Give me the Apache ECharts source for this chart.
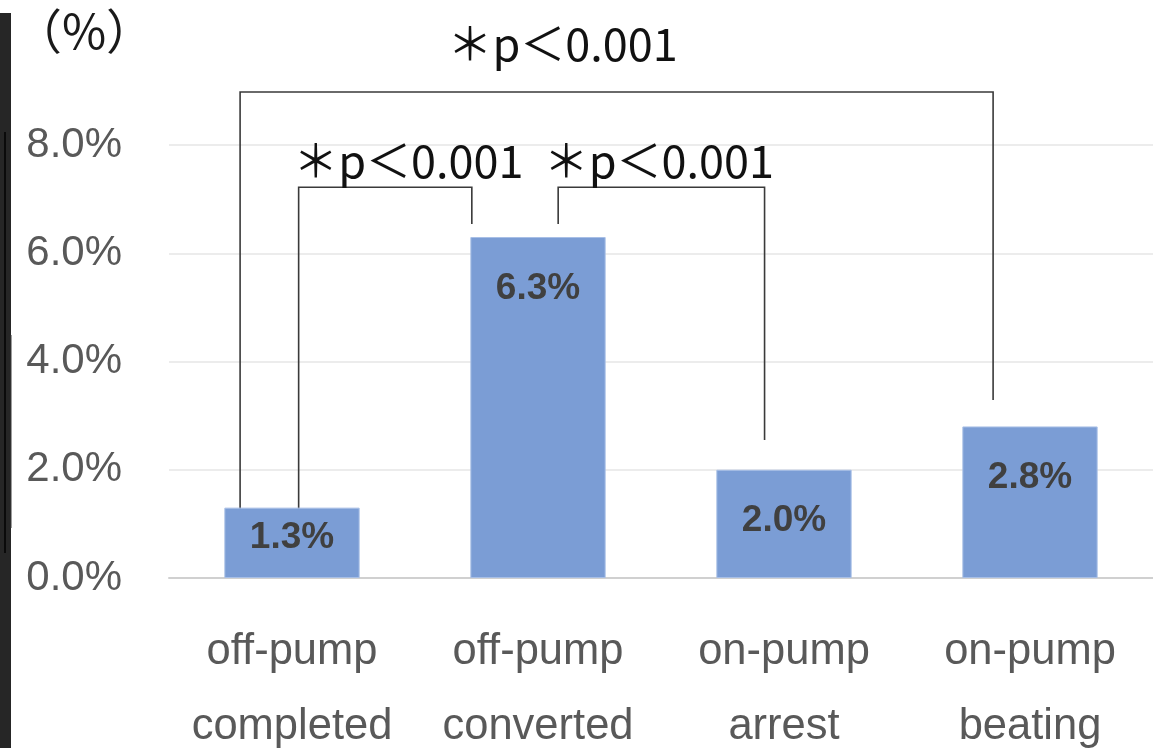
<!DOCTYPE html>
<html>
<head>
<meta charset="utf-8">
<script src="https://cdn.jsdelivr.net/npm/echarts@6/dist/echarts.min.js"></script>
<style>
html,body{margin:0;padding:0;background:#fff;overflow:hidden;}
#chart{width:1153px;height:748px;}
</style>
</head>
<body>
<div id="chart"></div>
<script>
// ---- data ----
const categories = ['off-pump\ncompleted', 'off-pump\nconverted', 'on-pump\narrest', 'on-pump\nbeating'];
const rates = [1.3, 6.3, 2.0, 2.8];          // %
const yTickValues = [0, 2, 4, 6, 8];          // %
const unitLabel = '（%）';
const pText = '＊p＜0.001';
// significance brackets (category index + fraction of band, values in %)
const bracketFromCat   = [0, 1, 0];
const bracketFromShift = [0.027, 0.082, -0.211];
const bracketFromEnd   = [1.2, 6.54, 1.2];
const bracketToCat     = [1, 2, 3];
const bracketToShift   = [-0.269, -0.079, -0.150];
const bracketToEnd     = [6.54, 2.55, 3.29];
const bracketTop       = [7.22, 7.22, 8.98];
const bracketLabelCat  = [0.473, 1.491, 1.10];
const bracketLabelY    = [7.70, 7.70, 9.875];

const chart = echarts.init(document.getElementById('chart'), null, {renderer: 'canvas'});

const barData = rates.map(v => v < 1.5
  ? {value: v, label: {position: 'inside', offset: [0, -5]}}
  : v);

chart.setOption({
  animation: false,
  backgroundColor: '#ffffff',
  grid: {left: 169, right: 0, top: 145, height: 433, containLabel: false, outerBoundsMode: 'none'},
  xAxis: {
    type: 'category',
    data: categories,
    axisTick: {show: false},
    axisLine: {show: true, lineStyle: {color: '#d0d0d0', width: 2}},
    axisLabel: {
      color: '#595959', fontSize: 43.5, lineHeight: 75, margin: 36,
      fontFamily: 'Liberation Sans, Arial, sans-serif', interval: 0
    }
  },
  yAxis: {
    type: 'value',
    min: yTickValues[0],
    max: yTickValues[yTickValues.length - 1],
    interval: yTickValues[1] - yTickValues[0],
    axisLine: {show: false},
    axisTick: {show: false},
    splitLine: {lineStyle: {color: '#ececec', width: 2}},
    axisLabel: {
      color: '#595959', fontSize: 42, margin: 47,
      fontFamily: 'Liberation Sans, Arial, sans-serif',
      formatter: v => v.toFixed(1) + '%'
    }
  },
  series: [{
    type: 'bar',
    data: barData,
    barWidth: '55%',
    itemStyle: {color: '#7b9dd5', borderColor: '#a8bfe6', borderWidth: 1},
    label: {
      show: true,
      position: 'insideTop',
      distance: 33,
      color: '#404040',
      fontSize: 37,
      fontWeight: 'bold',
      fontFamily: 'Liberation Sans, Arial, sans-serif',
      formatter: p => p.value.toFixed(1) + '%'
    }
  }]
});

function drawAnnotations() {
  const toPx = (cat, val) => chart.convertToPixel({xAxisIndex: 0, yAxisIndex: 0}, [cat, val]);
  const c0 = toPx(0, 0), c1 = toPx(1, 0);
  const band = c1[0] - c0[0];
  const xAt = c => {
    const base = Math.floor(c);
    return toPx(base, 0)[0] + (c - base) * band;
  };
  const yAt = v => toPx(0, v)[1];
  const els = [];
  // left dark strip (window edge)
  els.push({type: 'rect', shape: {x: 0, y: 13, width: 11, height: 735}, style: {fill: '#262626'}, silent: true});
  els.push({type: 'line', shape: {x1: 5, y1: 132, x2: 5, y2: 553}, style: {stroke: '#0a0a0a', lineWidth: 2}, silent: true});
  els.push({type: 'line', shape: {x1: 11, y1: 335, x2: 11, y2: 528}, style: {stroke: '#3a3a3a', lineWidth: 1}, silent: true});
  // unit label
  els.push({type: 'text', style: {text: unitLabel, x: 84, y: 31, align: 'center', verticalAlign: 'middle',
    fill: '#1a1a1a', fontSize: 48, fontFamily: 'Noto Sans CJK JP, sans-serif'}, silent: true});
  for (let i = 0; i < bracketFromCat.length; i++) {
    const x1 = xAt(bracketFromCat[i] + bracketFromShift[i]);
    const x2 = xAt(bracketToCat[i] + bracketToShift[i]);
    const yT = yAt(bracketTop[i]);
    els.push({type: 'polyline', silent: true,
      shape: {points: [[x1, yAt(bracketFromEnd[i])], [x1, yT], [x2, yT], [x2, yAt(bracketToEnd[i])]]},
      style: {stroke: '#3a3a3a', lineWidth: 1.6, fill: null}});
    els.push({type: 'text', silent: true, style: {
      text: pText, x: xAt(bracketLabelCat[i]), y: yAt(bracketLabelY[i]),
      align: 'center', verticalAlign: 'middle', fill: '#111',
      fontSize: 45, fontFamily: 'Noto Sans CJK JP, sans-serif'}});
  }
  chart.setOption({graphic: {elements: els}});
}
drawAnnotations();
</script>
</body>
</html>
